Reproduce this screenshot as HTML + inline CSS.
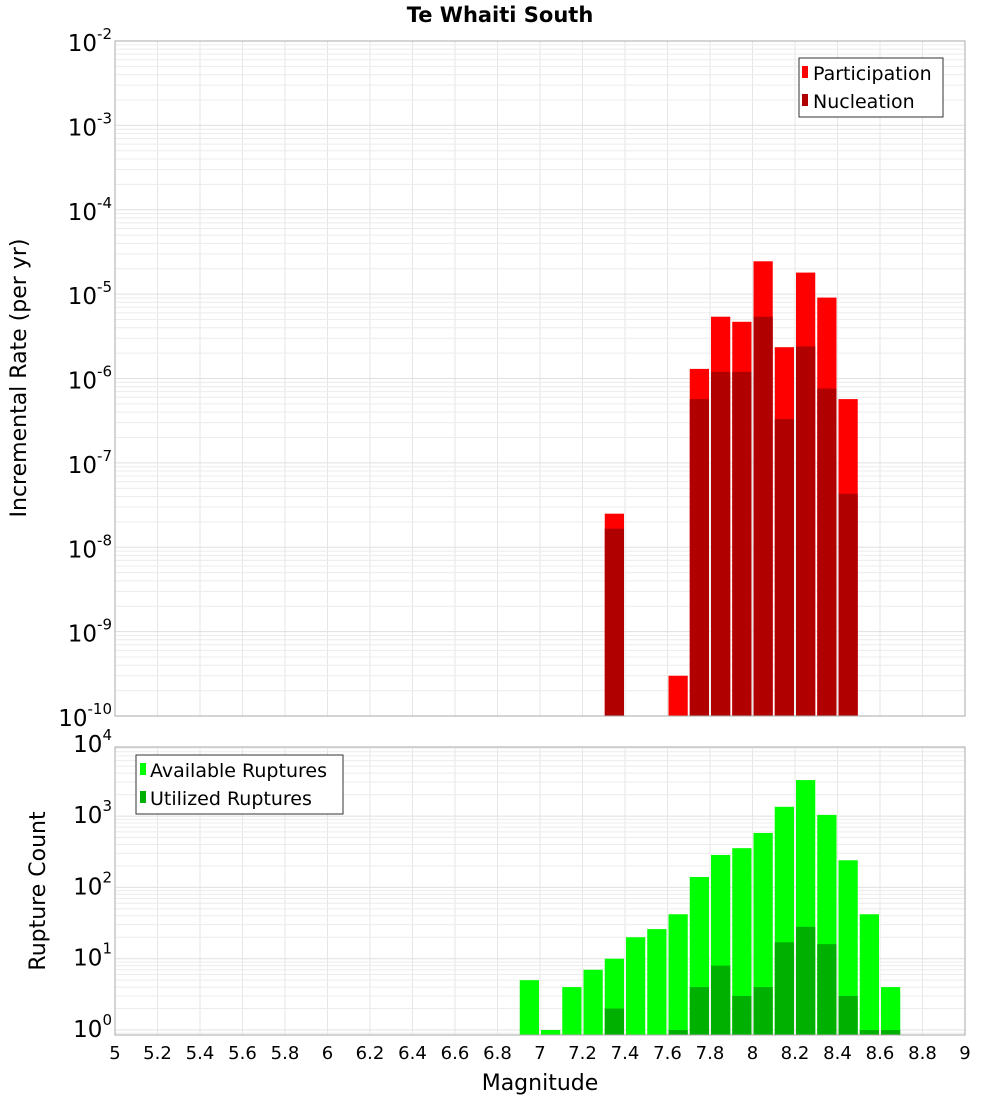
<!DOCTYPE html>
<html><head><meta charset="utf-8"><style>
body{margin:0;background:#fff;}
svg{display:block;font-family:"DejaVu Sans","Liberation Sans",sans-serif;}
</style></head><body>
<svg id="chart" width="1000" height="1100" viewBox="0 0 1000 1100"></svg>
<script>
const binCenters = [6.95,7.05,7.15,7.25,7.35,7.45,7.55,7.65,7.75,7.85,7.95,8.05,8.15,8.25,8.35,8.45,8.55,8.65];
const participation = [0,0,0,0,2.5e-8,0,0,3e-10,1.3e-6,5.4e-6,4.7e-6,2.45e-5,2.35e-6,1.8e-5,9.1e-6,5.7e-7,0,0];
const nucleation = [0,0,0,0,1.66e-8,0,0,0,5.7e-7,1.2e-6,1.2e-6,5.4e-6,3.3e-7,2.4e-6,7.6e-7,4.3e-8,0,0];
const available = [5,1,4,7,10,20,26,42,140,285,355,580,1350,3200,1040,240,42,4];
const utilized = [0,0,0,0,2,0,0,1,4,8,3,4,17,28,16,3,1,1];
const xTicks = [5,5.2,5.4,5.6,5.8,6,6.2,6.4,6.6,6.8,7,7.2,7.4,7.6,7.8,8,8.2,8.4,8.6,8.8,9];
const topExps = [-2,-3,-4,-5,-6,-7,-8,-9,-10];
const botExps = [4,3,2,1,0];

const NS='http://www.w3.org/2000/svg';
const svg=document.getElementById('chart');
function el(tag,attrs,parent){const e=document.createElementNS(NS,tag);for(const k in attrs)e.setAttribute(k,attrs[k]);(parent||svg).appendChild(e);return e;}
const X0=115,X1=965;
const xs=v=>X0+(v-5)/4*(X1-X0);
const T0=41,T1=716; const ty=v=>T0+(-2-Math.log10(v))*(T1-T0)/8;
const B0=747,B1=1035; const BD=71.3; const by=v=>1030-Math.log10(v)*BD;

function grid(y0,y1,yf,minExp,maxExp,g){
  for(const t of xTicks){const l=el('line',{x1:xs(t),x2:xs(t),y1:y0,y2:y1,stroke:'#e6e6e6','stroke-width':1},g);
    }
  for(let e=minExp;e<=maxExp;e++){for(let m=1;m<10;m++){const y=yf(m*Math.pow(10,e));if(y<y0||y>y1)continue;
    const l=el('line',{x1:X0,x2:X1,y1:y,y2:y,stroke:m==1?'#e0e0e0':'#ececec','stroke-width':1},g);
    }}
}
// title
const title=el('text',{x:500,y:22,'text-anchor':'middle','font-size':21,'font-weight':'bold'});
title.textContent='Te Whaiti South';


// top panel
const gt=el('g',{});
grid(T0,T1,ty,-11,-2,gt);
binCenters.forEach((c,i)=>{
  const x=xs(c-0.05)+1,w=xs(c+0.05)-xs(c-0.05)-2;
  if(participation[i]>0){const y=Math.max(ty(participation[i]),T0);const r=el('rect',{x:x,y:y,width:w,height:T1-y,fill:'#ff0000'},gt);
    }
  if(nucleation[i]>0){const y=Math.max(ty(nucleation[i]),T0);const r=el('rect',{x:x,y:y,width:w,height:T1-y,fill:'#b00000'},gt);
    }
});
el('rect',{x:X0,y:T0,width:X1-X0,height:T1-T0,fill:'none',stroke:'#aaa'},gt);
topExps.forEach(e=>{const y=ty(Math.pow(10,e));const t=el('text',{x:112,y:y+10,'text-anchor':'end','font-size':23},gt);
  
  t.textContent='10';const s=el('tspan',{dy:-12,'font-size':15},t);s.textContent=String(e);});
const yt=el('text',{x:26,y:378,'text-anchor':'middle','font-size':22,transform:'rotate(-90 26 378)'},gt);
yt.textContent='Incremental Rate (per yr)';
// top legend
const lt=el('g',{});
el('rect',{x:799,y:58,width:144,height:59,fill:'#fff',stroke:'#333'},lt);
[['Participation','#ff0000',73],['Nucleation','#b00000',101]].forEach(([n,c,y])=>{
  const s=el('rect',{x:802,y:y-7,width:6,height:12,fill:c},lt);
  const t=el('text',{x:813,y:y+7,'font-size':19},lt);t.textContent=n;});

// bottom panel
const gb=el('g',{});
grid(B0,B1,by,-1,4,gb);
binCenters.forEach((c,i)=>{
  const x=xs(c-0.05)+1,w=xs(c+0.05)-xs(c-0.05)-2;
  if(available[i]>0){const y=by(available[i]);const r=el('rect',{x:x,y:y,width:w,height:B1-y,fill:'#00ff00'},gb);
    }
  if(utilized[i]>0){const y=by(utilized[i]);const r=el('rect',{x:x,y:y,width:w,height:B1-y,fill:'#00b000'},gb);
    }
});
el('rect',{x:X0,y:B0,width:X1-X0,height:B1-B0,fill:'none',stroke:'#aaa'},gb);
botExps.forEach(e=>{const y=by(Math.pow(10,e));const t=el('text',{x:112,y:y+7,'text-anchor':'end','font-size':23},gb);
  
  t.textContent='10';const s=el('tspan',{dy:-12,'font-size':15},t);s.textContent=String(e);});
const yb=el('text',{x:45,y:891,'text-anchor':'middle','font-size':22,transform:'rotate(-90 45 891)'},gb);
yb.textContent='Rupture Count';
xTicks.forEach(t=>{const tx=el('text',{x:xs(t),y:1059,'text-anchor':'middle','font-size':18},gb);tx.textContent=String(t);
  });
const xt=el('text',{x:540,y:1090,'text-anchor':'middle','font-size':22},gb);
xt.textContent='Magnitude';
// bottom legend
const lb=el('g',{});
el('rect',{x:136,y:755,width:207,height:59,fill:'#fff',stroke:'#333'},lb);
[['Available Ruptures','#00ff00',770],['Utilized Ruptures','#00b000',798]].forEach(([n,c,y])=>{
  const s=el('rect',{x:140,y:y-7,width:6,height:12,fill:c},lb);
  const t=el('text',{x:150,y:y+7,'font-size':19},lb);t.textContent=n;});
</script>
</body></html>
